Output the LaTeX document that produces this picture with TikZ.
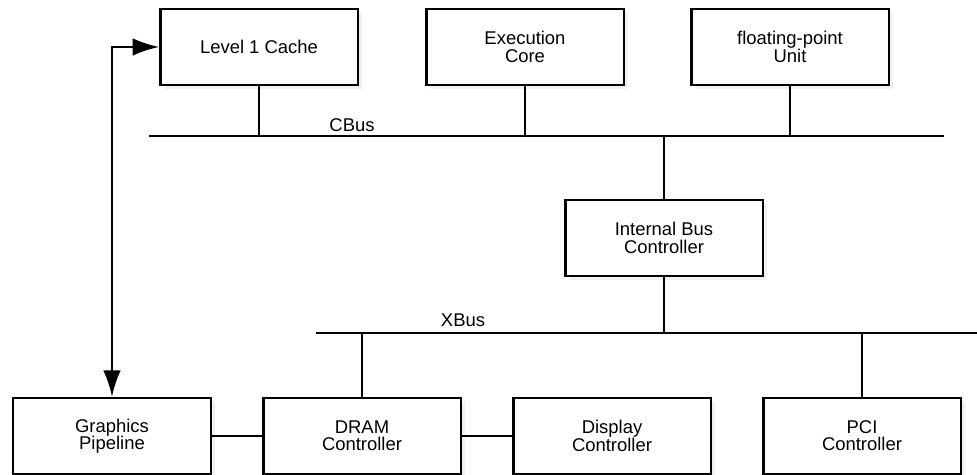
\documentclass[tikz,border=0pt]{standalone}
\usepackage{fontspec}
\setmainfont{Liberation Sans}
\usetikzlibrary{arrows.meta,shadows}
\newcommand\boxfont{\fontsize{10.5}{9.8}\selectfont\lineskiplimit=-20pt\relax}

\begin{document}
\begin{tikzpicture}[
    x=0.02cm, y=-0.02cm,
    box/.style={rectangle, draw=black, line width=1.4pt, fill=white, minimum width=3.95cm, minimum height=1.52cm, inner sep=0pt, align=center,
        font=\boxfont,
        drop shadow={fill=black!6, opacity=1, shadow xshift=2.5pt, shadow yshift=-2.5pt}},
    bus/.style={line width=1.3pt},
    link/.style={line width=1.3pt},
    buslabel/.style={font=\fontsize{10.5}{12}\selectfont, inner sep=0pt},
    dblarrow/.style={line width=1.3pt, {Latex[length=15pt,width=10pt]}-{Latex[length=15pt,width=10pt]}}
]
\useasboundingbox (0,0) rectangle (977,475);

% Nodes
\node (l1cache) [box] at (259,47) {Level 1 Cache};
\node (execcore) [box] at (525,47) {Execution\\Core};
\node (fpu) [box] at (790,47) {floating-point\\Unit};
\node (ibc) [box] at (664,238) {Internal Bus\\Controller};
\node (graphics) [box] at (112,436) {Graphics\\Pipeline};
\node (dram) [box] at (362,436) {DRAM\\Controller};
\node (display) [box] at (612,436) {Display\\Controller};
\node (pci) [box] at (862,436) {PCI\\Controller};

% Buses
\coordinate (cbusL) at (149,136);
\coordinate (cbusR) at (944,136);
\coordinate (xbusL) at (316,333);
\coordinate (xbusR) at (977,333);
\draw [bus] (cbusL) -- (cbusR);
\draw [bus] (xbusL) -- (xbusR);
\node (cbuslabel) [buslabel] at (352,125) {CBus};
\node (xbuslabel) [buslabel] at (463,320) {XBus};

% Links
\draw [link] (l1cache.south) -- (l1cache.south |- cbusL);
\draw [link] (execcore.south) -- (execcore.south |- cbusL);
\draw [link] (fpu.south) -- (fpu.south |- cbusL);
\draw [link] (ibc.north) -- (ibc.north |- cbusL);
\draw [link] (ibc.south) -- (ibc.south |- xbusL);
\draw [link] (dram.north) -- (dram.north |- xbusL);
\draw [link] (pci.north) -- (pci.north |- xbusL);
\draw [link] (graphics.east) -- (dram.west);
\draw [link] (dram.east) -- (display.west);

% Arrow
\draw [dblarrow] (l1cache.west) -| (graphics.north);

\end{tikzpicture}
\end{document}
